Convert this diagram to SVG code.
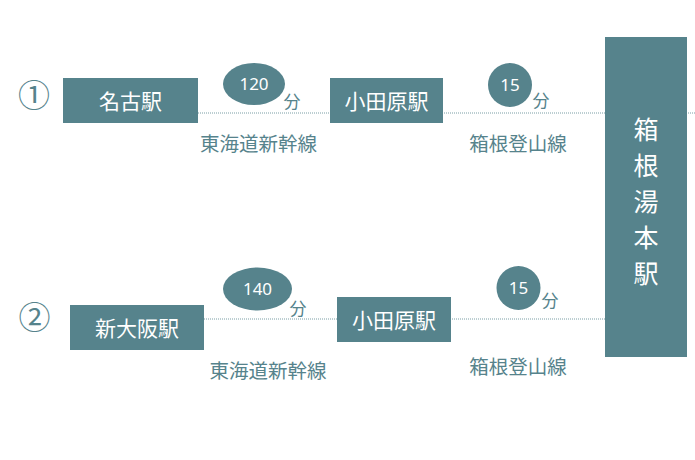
<svg xmlns="http://www.w3.org/2000/svg" width="695" height="460" viewBox="0 0 695 460">
<style>
.box{fill:#56838c}
.bt{fill:#ffffff;font-family:"Noto Sans CJK JP","Noto Sans",sans-serif;font-size:21px;text-anchor:middle}
.big{fill:#ffffff;font-family:"Noto Sans CJK JP",sans-serif;font-size:25px;text-anchor:middle}
.num{fill:#ffffff;font-family:"Noto Sans","Open Sans",sans-serif;font-size:17px;text-anchor:middle}
.lab{fill:#56838c;font-family:"Noto Sans CJK JP",sans-serif;font-size:19.5px;text-anchor:middle}
.fun{fill:#56838c;font-family:"Noto Sans CJK JP",sans-serif;font-size:17px;text-anchor:middle}
.circ{fill:#56838c;font-family:"Noto Sans CJK JP",sans-serif;font-size:32px;text-anchor:middle}
.dot{stroke:#7a9ea5;stroke-width:1;stroke-dasharray:1 1;fill:none}
</style>
<rect width="695" height="460" fill="#ffffff"/>
<g id="connectors">
<line class="dot" x1="198" y1="113" x2="695" y2="113"/>
<line class="dot" x1="204" y1="319" x2="605" y2="319"/>
</g>
<g id="route1-label"><text class="circ" x="34" y="106.5">①</text></g>
<g id="route2-label"><text class="circ" x="34.5" y="328.5">②</text></g>
<g id="nagoya">
<rect class="box" x="63" y="78" width="135" height="45"/>
<text class="bt" x="130.5" y="108.5">名古駅</text>
</g>
<g id="odawara1">
<rect class="box" x="330" y="78" width="113" height="45"/>
<text class="bt" x="386.5" y="108.5">小田原駅</text>
</g>
<g id="shinosaka">
<rect class="box" x="70" y="305" width="134" height="45"/>
<text class="bt" x="137" y="335.5">新大阪駅</text>
</g>
<g id="odawara2">
<rect class="box" x="337" y="297" width="114" height="45"/>
<text class="bt" x="394" y="327.5">小田原駅</text>
</g>
<g id="hakoneyumoto">
<rect class="box" x="605" y="37" width="82" height="320"/>
<text class="big" x="646" y="138.5">箱</text>
<text class="big" x="646" y="174.5">根</text>
<text class="big" x="646" y="210.5">湯</text>
<text class="big" x="646" y="246.5">本</text>
<text class="big" x="646" y="282.5">駅</text>
</g>
<g id="time1a">
<ellipse class="box" cx="254" cy="84" rx="31" ry="21"/>
<text class="num" x="254" y="90">120</text>
<text class="fun" x="292" y="108">分</text>
</g>
<g id="time1b">
<circle class="box" cx="510" cy="85" r="22"/>
<text class="num" x="510" y="91">15</text>
<text class="fun" x="541" y="107">分</text>
</g>
<g id="time2a">
<ellipse class="box" cx="257.5" cy="289" rx="34.5" ry="21.5"/>
<text class="num" x="257.5" y="295">140</text>
<text class="fun" x="298" y="315">分</text>
</g>
<g id="time2b">
<circle class="box" cx="518.5" cy="288" r="22"/>
<text class="num" x="518.5" y="294">15</text>
<text class="fun" x="550" y="307">分</text>
</g>
<g id="line-labels">
<text class="lab" x="258.5" y="151">東海道新幹線</text>
<text class="lab" x="518" y="151">箱根登山線</text>
<text class="lab" x="268" y="378">東海道新幹線</text>
<text class="lab" x="518" y="374">箱根登山線</text>
</g>
</svg>
